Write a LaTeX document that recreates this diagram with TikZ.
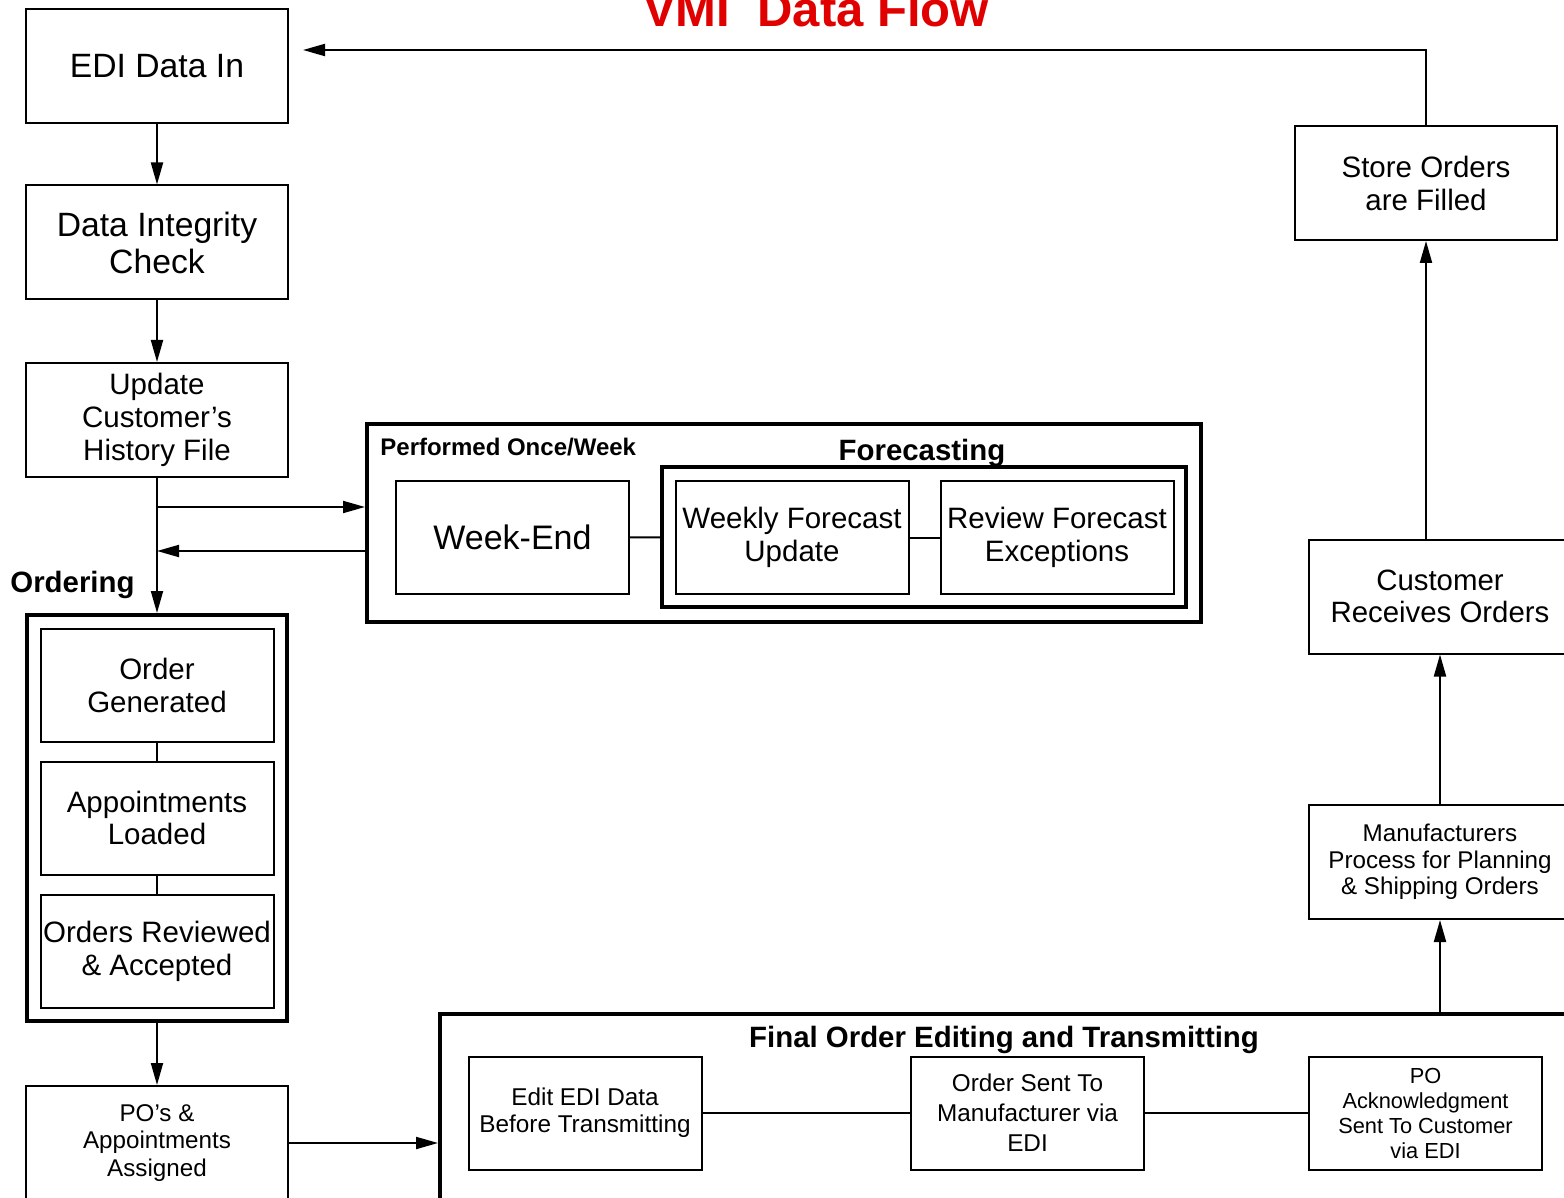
\documentclass[tikz,border=0pt]{standalone}
\usepackage{fontspec}
\setmainfont{Liberation Sans}
\usetikzlibrary{arrows.meta, calc}
\definecolor{titlered}{RGB}{224,0,0}
\tikzstyle{stage} = [rectangle, draw=black, line width=1pt, minimum width=131pt, minimum height=57pt, inner sep=0pt, align=center, font=\fontsize{14.75}{16.5}\selectfont]
\tikzstyle{substage} = [stage, minimum width=116.5pt, minimum height=56.5pt]
\tikzstyle{group} = [rectangle, draw=black, line width=2pt, inner sep=0pt]
\tikzstyle{grouplabel} = [inner sep=0pt, font=\bfseries\fontsize{14.7}{16}\selectfont]
\tikzstyle{arrow} = [line width=1pt, -{Triangle[length=11pt,width=6pt]}]
\tikzstyle{link} = [line width=1pt]

\begin{document}
\begin{tikzpicture}[x=0.5pt, y=-0.5pt]
	\useasboundingbox (0,0) rectangle (1564,1198);
	\node(title)[anchor=base, text=titlered, font=\bfseries\fontsize{24.5}{28}\selectfont] at (816,27) {VMI\ \ Data Flow};

	% left column
	\node(edi)[stage, font=\fontsize{16.85}{18.5}\selectfont] at (157,66) {EDI Data In};
	\node(integrity)[stage, font=\fontsize{16.85}{18.5}\selectfont] at (157,242.5) {Data Integrity\\Check};
	\node(history)[stage] at (157,420) {Update\\Customer’s\\History File};

	% ordering
	\node(ordering)[group, minimum width=130pt, minimum height=203pt] at (157,818) {};
	\node(orderlabel)[grouplabel, anchor=base west] at (10,592) {Ordering};
	\node(generated)[substage] at (157,685) {Order\\Generated};
	\node(appoint)[substage, font=\fontsize{14.75}{16}\selectfont] at (157,818) {Appointments\\Loaded};
	\node(reviewed)[substage] at (157,951) {Orders Reviewed\\\& Accepted};
	\node(poassign)[stage, font=\fontsize{12.1}{13.75}\selectfont] at (157,1143) {PO’s \&\\Appointments\\Assigned};

	% once a week
	\node(perfweek)[group, minimum width=417pt, minimum height=99pt] at (784,523) {};
	\node(perflabel)[grouplabel, anchor=base west, font=\bfseries\fontsize{12}{14}\selectfont] at (380,455.5) {Performed Once/Week};
	\node(weekend)[substage, font=\fontsize{17}{19}\selectfont] at (512.5,537.5) {Week-End};
	\node(forecast)[group, minimum width=262pt, minimum height=70pt] at (924,537) {};
	\node(forelabel)[grouplabel, anchor=base] at (922,460) {Forecasting};
	\node(weekly)[substage] at (792,537.5) {Weekly Forecast\\Update};
	\node(review)[substage] at (1057,537.5) {Review Forecast\\Exceptions};

	% final order
	\node(final)[group, minimum width=580pt, minimum height=103pt] at (1020,1117) {};
	\node(finallabel)[grouplabel, anchor=base] at (1004,1047) {Final Order Editing and Transmitting};
	\node(editedi)[substage, font=\fontsize{12.15}{13.5}\selectfont] at (585,1113) {Edit EDI Data\\Before Transmitting};
	\node(sentmfr)[substage, font=\fontsize{12.15}{15}\selectfont] at (1027.5,1113) {Order Sent To\\Manufacturer via\\EDI};
	\node(poack)[substage, font=\fontsize{10.9}{12.5}\selectfont] at (1425.5,1113) {PO\\Acknowledgment\\Sent To Customer\\via EDI};

	% right column
	\node(mfrplan)[stage, font=\fontsize{12.1}{13.25}\selectfont] at (1440,862) {Manufacturers\\Process for Planning\\\& Shipping Orders};
	\node(custrecv)[stage, font=\fontsize{14.7}{16}\selectfont] at (1440,596.5) {Customer\\Receives Orders};
	\node(storefill)[stage] at (1426,183) {Store Orders\\are Filled};

	\draw [arrow] (edi) -- (integrity);
	\draw [arrow] (integrity) -- (history);
	\draw [arrow] (history) -- (ordering);
	\draw [arrow] ([yshift=8pt]perfweek.west -| history.south) -- ([yshift=8pt]perfweek.west);
	\draw [arrow] ([yshift=-14pt]perfweek.west) -- ([yshift=-14pt]perfweek.west -| history.south);
	\draw [link] (generated) -- (appoint);
	\draw [link] (appoint) -- (reviewed);
	\draw [arrow] (ordering) -- (poassign);
	\draw [arrow] (poassign.east) -- (poassign.east -| final.west);
	\draw [link] (weekend) -- (forecast);
	\draw [link] (weekly) -- (review);
	\draw [link] (editedi) -- (sentmfr);
	\draw [link] (sentmfr) -- (poack);
	\draw [arrow] (mfrplan.south |- final.north) -- (mfrplan.south);
	\draw [arrow] (mfrplan) -- (custrecv);
	\draw [arrow] (storefill.south |- custrecv.north) -- (storefill.south);
	\draw [arrow] (storefill.north) |- ([xshift=7pt,yshift=8pt]edi.east);
\end{tikzpicture}
\end{document}
